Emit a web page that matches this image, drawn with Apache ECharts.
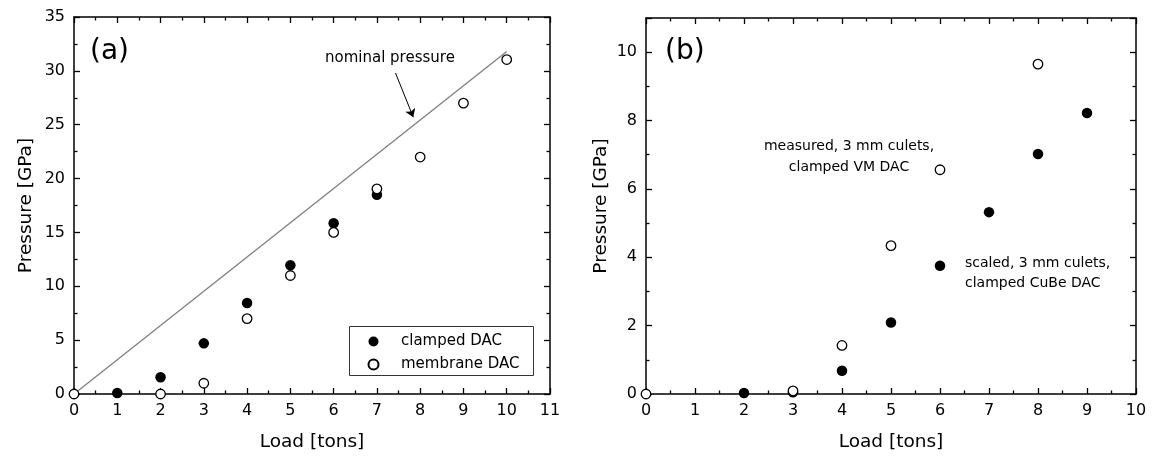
<!DOCTYPE html>
<html>
<head>
<meta charset="utf-8">
<script src="https://cdn.jsdelivr.net/npm/echarts@6/dist/echarts.min.js"></script>
<style>
html,body{margin:0;padding:0;background:#fff;}
#c{width:1154px;height:466px;}
</style>
</head>
<body>
<div id="c"></div>
<script>
// ---- Data (panel a) ----
const loadA_clamped = [1, 2, 3, 4, 5, 6, 7];
const pressA_clamped = [0.1, 1.55, 4.7, 8.45, 11.95, 15.85, 18.5];
const loadA_membrane = [0, 2, 3, 4, 5, 6, 7, 8, 9, 10];
const pressA_membrane = [0, 0, 1.0, 7.0, 11.0, 15.0, 19.05, 22.0, 27.0, 31.05];
const loadNominal = [0, 10];
const pressNominal = [0, 31.8];
// ---- Data (panel b) ----
const loadB_scaled = [2, 3, 4, 5, 6, 7, 8, 9];
const pressB_scaled = [0.03, 0.05, 0.68, 2.09, 3.75, 5.32, 7.02, 8.22];
const loadB_measured = [0, 3, 4, 5, 6, 8];
const pressB_measured = [0, 0.09, 1.42, 4.34, 6.56, 9.65];
// ---- Text ----
const legendNames = ['clamped DAC', 'membrane DAC'];
const xTitle = 'Load [tons]';
const yTitle = 'Pressure [GPa]';

const pairs = (xs, ys) => xs.map((x, i) => [x, ys[i]]);
const FONT = 'DejaVu Sans';
const BLACK = '#000';

function xAx(grid, max, pos, withLabels) {
  return {
    type: 'value', gridIndex: grid, min: 0, max: max, interval: 1, position: pos,
    axisLine: {show: true, onZero: false, lineStyle: {color: BLACK, width: 1.5}},
    axisTick: {show: true, inside: true, length: 6, lineStyle: {color: BLACK, width: 1.3}},
    minorTick: {show: true, splitNumber: 2, length: 3.5, lineStyle: {color: BLACK, width: 1.3}},
    splitLine: {show: false}, minorSplitLine: {show: false},
    axisLabel: {show: withLabels, margin: 9, color: BLACK, fontFamily: FONT, fontSize: 16},
    name: withLabels ? xTitle : '', nameLocation: 'middle', nameGap: 39,
    nameTextStyle: {color: BLACK, fontFamily: FONT, fontSize: 18.5}
  };
}
function yAx(grid, max, interval, pos, withLabels, gap) {
  return {
    type: 'value', gridIndex: grid, min: 0, max: max, interval: interval, position: pos,
    axisLine: {show: true, onZero: false, lineStyle: {color: BLACK, width: 1.5}},
    axisTick: {show: true, inside: true, length: 6, lineStyle: {color: BLACK, width: 1.3}},
    minorTick: {show: true, splitNumber: 2, length: 3.5, lineStyle: {color: BLACK, width: 1.3}},
    splitLine: {show: false}, minorSplitLine: {show: false},
    axisLabel: {show: withLabels, margin: 9, color: BLACK, fontFamily: FONT, fontSize: 16,
      formatter: v => (v > max - 1e-9 && max % interval !== 0) ? '' : String(v)},
    name: withLabels ? yTitle : '', nameLocation: 'middle', nameGap: gap,
    nameTextStyle: {color: BLACK, fontFamily: FONT, fontSize: 18.5}
  };
}

const filled = {color: BLACK, borderColor: BLACK, borderWidth: 0, opacity: 1};
const open = {color: '#fff', borderColor: BLACK, borderWidth: 1.3, opacity: 1};

const chart = echarts.init(document.getElementById('c'), null, {renderer: 'canvas'});
chart.setOption({
  backgroundColor: '#fff',
  animation: false,
  textStyle: {fontFamily: FONT},
  grid: [
    {left: 74, right: 604, top: 17, bottom: 72, containLabel: false},
    {left: 646, right: 18, top: 18, bottom: 72, containLabel: false}
  ],
  xAxis: [
    xAx(0, 11, 'bottom', true), xAx(0, 11, 'top', false),
    xAx(1, 10, 'bottom', true), xAx(1, 10, 'top', false)
  ],
  yAxis: [
    yAx(0, 35, 5, 'left', true, 38), yAx(0, 35, 5, 'right', false, 0),
    yAx(1, 11, 2, 'left', true, 35), yAx(1, 11, 2, 'right', false, 0)
  ],
  legend: {
    show: true, orient: 'vertical', left: 367.5, top: 334, padding: 0,
    itemWidth: 45, itemHeight: 10, itemGap: 8, icon: 'circle',
    data: legendNames,
    textStyle: {color: BLACK, fontFamily: FONT, fontSize: 15}
  },
  series: [
    {
      name: 'nominal', type: 'line', xAxisIndex: 0, yAxisIndex: 0,
      data: pairs(loadNominal, pressNominal), showSymbol: false, symbol: 'none',
      lineStyle: {color: '#7f7f7f', width: 1.3}, silent: true, z: 2
    },
    {
      name: 'arrow', type: 'lines', coordinateSystem: 'cartesian2d', xAxisIndex: 0, yAxisIndex: 0,
      data: [{coords: [[7.43, 29.8], [7.84, 25.7]]}],
      symbol: ['none', 'arrow'], symbolSize: 8,
      lineStyle: {color: BLACK, width: 1, opacity: 1}, silent: true, z: 3
    },
    {
      name: legendNames[0], type: 'scatter', xAxisIndex: 0, yAxisIndex: 0,
      data: pairs(loadA_clamped, pressA_clamped), symbol: 'circle', symbolSize: 10.5,
      itemStyle: filled, z: 4
    },
    {
      name: legendNames[1], type: 'scatter', xAxisIndex: 0, yAxisIndex: 0,
      data: pairs(loadA_membrane, pressA_membrane), symbol: 'circle', symbolSize: 9.5,
      itemStyle: open, z: 5
    },
    {
      name: 'scaled (b)', type: 'scatter', xAxisIndex: 2, yAxisIndex: 2,
      data: pairs(loadB_scaled, pressB_scaled), symbol: 'circle', symbolSize: 10.5,
      itemStyle: filled, z: 4
    },
    {
      name: 'measured (b)', type: 'scatter', xAxisIndex: 2, yAxisIndex: 2,
      data: pairs(loadB_measured, pressB_measured), symbol: 'circle', symbolSize: 9.5,
      itemStyle: open, z: 5
    }
  ],
  graphic: [
    {type: 'rect', shape: {x: 349.5, y: 326.5, width: 184, height: 49},
     style: {fill: 'none', stroke: '#333', lineWidth: 1}, silent: true, z: 10},
    {type: 'text', x: 90, y: 52, style: {text: '(a)', fill: BLACK, font: '28px "DejaVu Sans"', textVerticalAlign: 'middle'}},
    {type: 'text', x: 665, y: 52, style: {text: '(b)', fill: BLACK, font: '28px "DejaVu Sans"', textVerticalAlign: 'middle'}},
    {type: 'text', x: 325, y: 58, style: {text: 'nominal pressure', fill: BLACK, font: '15px "DejaVu Sans"', textVerticalAlign: 'middle'}},
    {type: 'text', x: 849, y: 157, style: {text: 'measured, 3 mm culets,\nclamped VM DAC', fill: BLACK, font: '14px "DejaVu Sans"', lineHeight: 20.5, textAlign: 'center', textVerticalAlign: 'middle'}},
    {type: 'text', x: 965, y: 273, style: {text: 'scaled, 3 mm culets,\nclamped CuBe DAC', fill: BLACK, font: '14px "DejaVu Sans"', lineHeight: 20, textAlign: 'left', textVerticalAlign: 'middle'}}
  ]
});
</script>
</body>
</html>
